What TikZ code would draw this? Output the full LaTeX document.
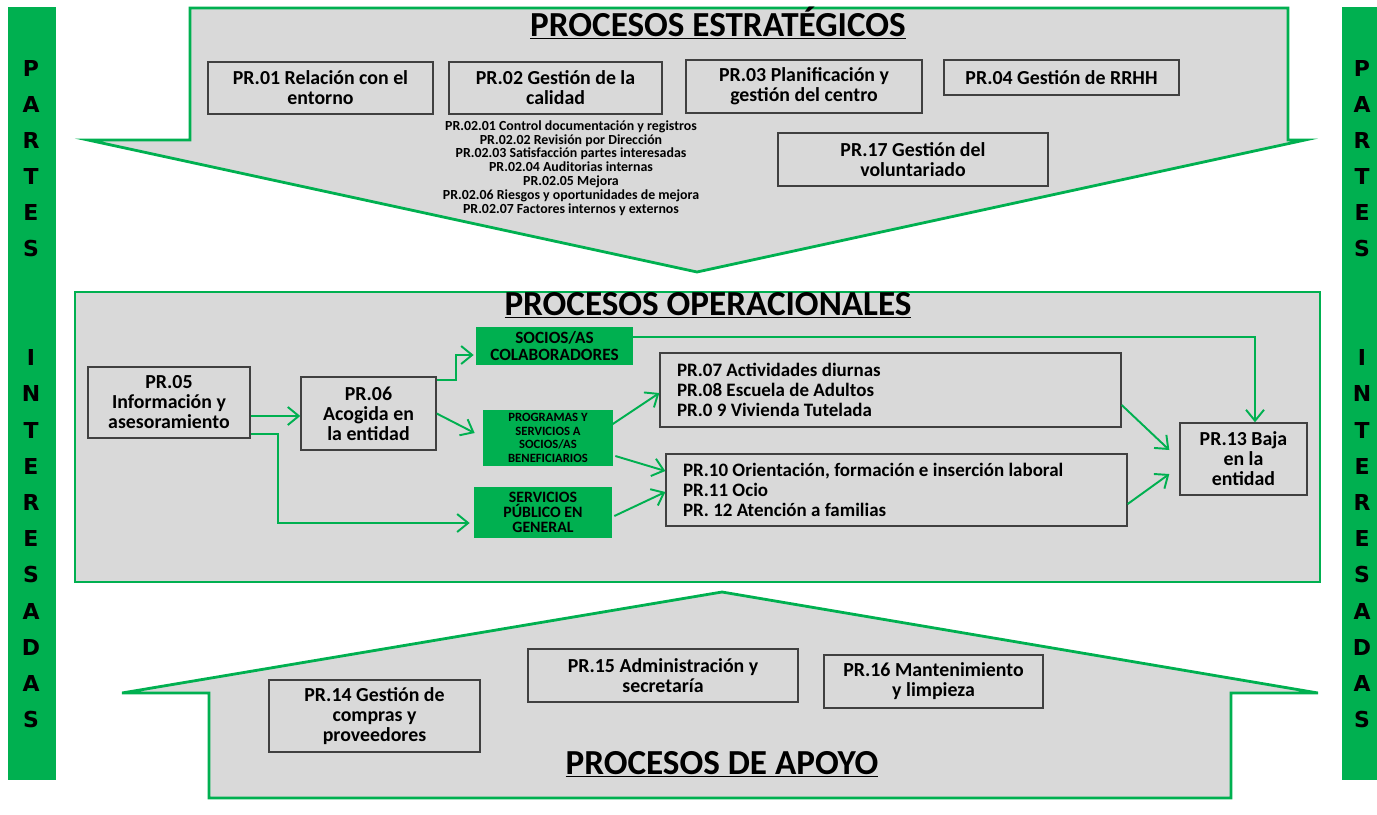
\documentclass[tikz,border=0pt]{standalone}
\usepackage{fontspec}
\setmainfont{Carlito}
\newfontfamily\letras{DejaVu Sans}
\usetikzlibrary{calc,arrows.meta,positioning}
\definecolor{verde}{HTML}{00B050}
\definecolor{gris}{HTML}{D9D9D9}
\definecolor{borde}{HTML}{404040}
\tikzset{
    proceso/.style={
        draw=borde,thick,fill=gris,align=center,
        inner sep=1pt,
        font=\bfseries\fontsize{11.3}{11.4}\selectfont
    },
    lista/.style={
        proceso,align=flush left,text width=8.54cm,inner xsep=0.34cm,
        font=\bfseries\fontsize{10.8}{11.4}\selectfont
    },
    grupo/.style={
        fill=verde,align=center,inner sep=1pt,
        font=\bfseries\fontsize{9.8}{9.4}\selectfont
    },
    marco/.style={draw=verde,line width=1.6pt,fill=gris},
    titulo/.style={anchor=base,font=\bfseries\fontsize{20}{22}\selectfont},
    letra/.style={font=\letras\bfseries\fontsize{12.5}{12.5}\selectfont},
    >={Straight Barb[length=2.2mm,width=3.6mm]},
    flecha/.style={->,draw=verde,line width=1.1pt},
}
\begin{document}
\begin{tikzpicture}[x=0.02cm,y=-0.02cm]
		\useasboundingbox (0,0) rectangle (1377,815);
		% partes interesadas
		\fill[verde] (8,7) rectangle (56,780);
		\fill[verde] (1342,7) rectangle (1377,780);
		\foreach \i/\l in {0/P,1/A,2/R,3/T,4/E,5/S,8/I,9/N,10/T,11/E,12/R,13/E,14/S,15/A,16/D,17/A,18/S}{
			\node[letra] (izq\i) at (31,68+36.2*\i) {\l};
			\node[letra] (der\i) at (1362,68+36.2*\i) {\l};
		}

		% estrategicos
		\draw[marco] (190,8) -- (1288,8) -- (1288,140) -- (1305,140) -- (697,272) -- (88,140) -- (190,140) -- cycle;
		\node[titulo] (tEst) at (718,36) {\underline{PROCESOS ESTRATÉGICOS}};
		\node[proceso,minimum width=4.5cm,minimum height=1.04cm] (pr01) at (320.5,88) {PR.01 Relación con el\\entorno};
		\node[proceso,minimum width=4.26cm,minimum height=1.04cm] (pr02) at (555.5,88) {PR.02 Gestión de la\\calidad};
		\node[proceso,minimum width=4.72cm,minimum height=1.06cm] (pr03) at (804,86.5) {PR.03 Planificación y\\gestión del centro};
		\node[proceso,minimum width=4.7cm,minimum height=0.7cm] (pr04) at (1061.5,77.5) {PR.04 Gestión de RRHH};
		\node[proceso,minimum width=5.4cm,minimum height=1.06cm] (pr17) at (913,159.5) {PR.17 Gestión del\\voluntariado};
		\node[align=center,font=\bfseries\fontsize{7.9}{7.9}\selectfont] (sub02) at (571,168) {PR.02.01 Control documentación y registros\\PR.02.02 Revisión por Dirección\\PR.02.03 Satisfacción partes interesadas\\PR.02.04 Auditorias internas\\PR.02.05 Mejora\\PR.02.06 Riesgos y oportunidades de mejora\\PR.02.07 Factores internos y externos};

		% operacionales
		\draw[marco] (75,292) rectangle (1320,582);
		\node[titulo] (tOpe) at (708,315) {\underline{PROCESOS OPERACIONALES}};
		\node[proceso,minimum width=3.24cm,minimum height=1.42cm] (pr05) at (169,402.5) {PR.05\\Información y\\asesoramiento};
		\node[proceso,minimum width=2.7cm,minimum height=1.46cm] (pr06) at (368.5,413.5) {PR.06\\Acogida en\\la entidad};
		\node[grupo,minimum width=3.14cm,minimum height=0.76cm] (socios) at (554.5,346) {SOCIOS/AS\\COLABORADORES};
		\node[grupo,minimum width=2.6cm,minimum height=1.12cm,font=\bfseries\fontsize{7.2}{7.7}\selectfont] (programas) at (548,438) {PROGRAMAS Y\\SERVICIOS A\\SOCIOS/AS\\BENEFICIARIOS};
		\node[grupo,minimum width=2.76cm,minimum height=1.02cm,font=\bfseries\fontsize{9}{8.6}\selectfont] (servicios) at (543,512.5) {SERVICIOS\\PÚBLICO EN\\GENERAL};
		\node[lista,minimum height=1.48cm] (pr07) at (890.5,390) {PR.07 Actividades diurnas\\PR.08 Escuela de Adultos\\PR.0 9 Vivienda Tutelada};
		\node[lista,minimum height=1.44cm] (pr10) at (896.5,490) {PR.10 Orientación, formación e inserción laboral\\PR.11 Ocio\\PR. 12 Atención a familias};
		\node[proceso,minimum width=2.54cm,minimum height=1.44cm] (pr13) at (1243.5,459) {PR.13 Baja\\en la\\entidad};

		\draw[flecha] ($(pr05.east)+(0,13.5)$) -- ($(pr06.west)+(0,2.5)$);
		\draw[flecha] ($(pr05.east)+(0,31.5)$) -- ++(27,0) |- ($(servicios.west)+(-4,10.5)$);
		\draw[flecha] ($(pr06.east)+(0,-33.5)$) -- ++(19,0) |- ($(socios.west)+(-2,9)$);
		\draw[flecha] (pr06.east) -- ($(programas.west)+(-8,-5)$);
		\draw[flecha] ($(socios.east)+(0,-9)$) -| ($(pr13.north)+(11.5,0)$);
		\draw[flecha] ($(programas.east)+(-2,-13)$) -- ($(pr07.west)+(0,3)$);
		\draw[flecha] ($(programas.east)+(2,18)$) -- ($(pr10.west)+(0,-19)$);
		\draw[flecha] ($(servicios.east)+(2,3.5)$) -- ($(pr10.west)+(0,2)$);
		\draw[flecha] ($(pr07.east)+(0,15)$) -- ($(pr13.west)+(-10,-9)$);
		\draw[flecha] ($(pr10.east)+(0,14)$) -- ($(pr13.west)+(-10,15)$);

		% apoyo
		\draw[marco] (722,592) -- (1318,693) -- (1231,693) -- (1231,798) -- (209,798) -- (209,693) -- (122,693) -- cycle;
		\node[titulo] (tApo) at (722,774) {\underline{PROCESOS DE APOYO}};
		\node[proceso,minimum width=4.22cm,minimum height=1.44cm] (pr14) at (374.5,716) {PR.14 Gestión de\\compras y\\proveedores};
		\node[proceso,minimum width=5.4cm,minimum height=1.06cm] (pr15) at (663,675.5) {PR.15 Administración y\\secretaría};
		\node[proceso,minimum width=4.38cm,minimum height=1.06cm] (pr16) at (933.5,681.5) {PR.16 Mantenimiento\\y limpieza};
	\end{tikzpicture}
\end{document}
